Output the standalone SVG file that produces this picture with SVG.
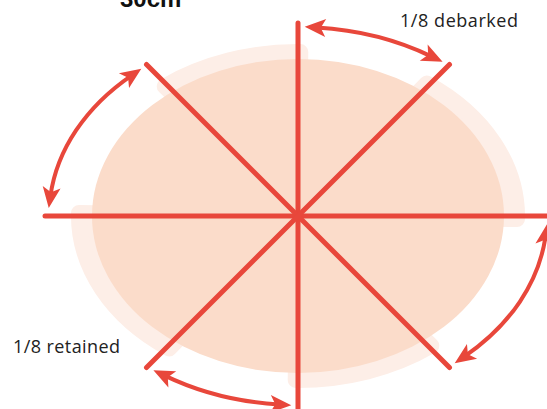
<svg xmlns="http://www.w3.org/2000/svg" width="547" height="409" viewBox="0 0 547 409">
  <defs>
    <style>
      .light { fill: #fdeee7; stroke: #fdeee7; stroke-width: 16; stroke-linejoin: round; }
      .dark { fill: #fbdcca; }
      .cut { stroke: #e8473b; stroke-width: 5; stroke-linecap: round; fill: none; }
      .arrow { stroke: #e8473b; stroke-width: 4; fill: none; marker-start: url(#head); marker-end: url(#head); }
      .label { font-family: "Open Sans", "Liberation Sans", sans-serif; font-size: 18px; fill: #222; }
      .title { font-family: "Liberation Sans", Arial, sans-serif; font-size: 24px; font-weight: bold; fill: #111; }
    </style>
    <marker id="head" viewBox="-11 -11 24 22" markerWidth="24" markerHeight="22" refX="0" refY="0" orient="auto-start-reverse" markerUnits="userSpaceOnUse">
      <path d="M12,0 L-9,-9 L-4,0 L-9,9 Z" fill="#e8473b"/>
    </marker>
  </defs>

  <g id="log">
    <path class="light" d="M298,216 L164.7,86.3 A218,164 0 0 1 300.3,52 Z"/>
    <path class="light" d="M298,216 L426.8,83.6 A218,164 0 0 1 517,219 Z"/>
    <path class="light" d="M298,216 L169.2,348.4 A218,164 0 0 1 79,213 Z"/>
    <path class="light" d="M298,216 L431.3,345.7 A218,164 0 0 1 295.7,380 Z"/>
    <ellipse class="dark" cx="298" cy="216" rx="206" ry="157"/>
  </g>

  <g id="cuts">
    <line class="cut" x1="45" y1="216" x2="552" y2="216"/>
    <line class="cut" x1="298" y1="23" x2="298" y2="414"/>
    <line class="cut" x1="146.5" y1="64.5" x2="449.5" y2="367.5"/>
    <line class="cut" x1="449.5" y1="64.5" x2="146.5" y2="367.5"/>
  </g>

  <g id="connectors">
    <path class="arrow" d="M316.7,27.5 A249,189 0 0 1 431.8,56.6"/>
    <path class="arrow" d="M279.3,404.5 A249,189 0 0 1 164.2,375.4"/>
    <path class="arrow" d="M545.6,235.8 A249,189 0 0 1 464.6,356.4"/>
    <path class="arrow" d="M50.4,196.2 A249,189 0 0 1 131.4,75.6"/>
  </g>

  <g id="labels">
    <text class="title" x="120" y="7">30cm</text>
    <text class="label" x="400" y="27" textLength="118">1/8 debarked</text>
    <text class="label" x="13" y="353" textLength="107">1/8 retained</text>
  </g>
</svg>
